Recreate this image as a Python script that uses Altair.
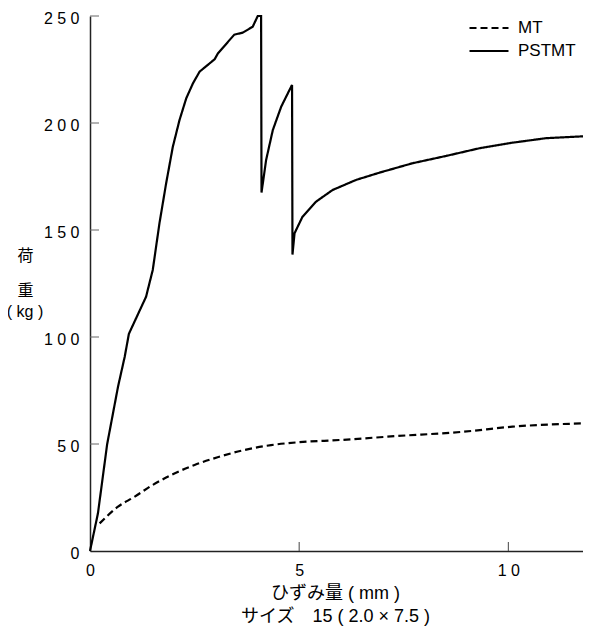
import altair as alt
import pandas as pd

series_names = ["MT", "PSTMT"]

mt_x = [0.23, 0.67, 1.07, 1.46, 1.94, 2.50, 3.05, 3.69, 4.33, 4.97, 6.00, 7.32, 8.91, 10.10, 11.85, 12.0]
mt_y = [12.9, 20.7, 25.4, 30.4, 35.5, 40.2, 43.8, 47.2, 49.5, 50.8, 51.9, 53.7, 55.7, 58.1, 59.7, 59.8]

pst_x = [0, 0.19, 0.41, 0.67, 0.83, 0.93, 1.34, 1.50, 1.66, 1.82, 1.98, 2.14, 2.30, 2.46, 2.62,
         2.98, 3.06, 3.45, 3.65, 3.89, 4.01, 4.09, 4.10, 4.21, 4.37, 4.57, 4.73, 4.83, 4.84,
         4.89, 5.08, 5.40, 5.80, 6.36, 6.92, 7.71, 8.51, 9.31, 10.10, 10.90, 12.0]
pst_y = [0, 17.6, 49.9, 76.8, 90.8, 101.5, 118.8, 131.3, 153.1, 171.8, 188.9, 201.4, 211.5, 218.5, 224.0,
         229.8, 232.6, 241.3, 242.2, 245.0, 250.0, 250.0, 167.5, 182.7, 196.7, 207.6, 213.9, 217.8, 138.5,
         148.5, 156.2, 163.2, 168.7, 173.4, 176.8, 181.2, 184.6, 188.2, 190.8, 192.9, 194.0]

x_label_values = [0, 5, 10]
y_label_values = [0, 50, 100, 150, 200, 250]
x_tick_values = [5, 10]
y_tick_values = [50, 100, 150, 200, 250]

x_title = ["ひずみ量 ( mm )", "サイズ　15 ( 2.0 × 7.5  )"]
y_title = ["荷", "重"]
y_unit = "( kg )"

mt_df = pd.DataFrame({"x": mt_x, "y": mt_y, "series": series_names[0], "i": list(range(len(mt_x)))})
pst_df = pd.DataFrame({"x": pst_x, "y": pst_y, "series": series_names[1], "i": list(range(len(pst_x)))})

W, H = 502, 535
LATIN = "Liberation Sans"
MIXED = "'Liberation Sans', 'Noto Sans CJK JP'"

x_scale = alt.Scale(domain=[0, 12], nice=False, zero=False)
y_scale = alt.Scale(domain=[0, 250], nice=False)
dash_scale = alt.Scale(domain=series_names, range=[[7, 4], [1, 0]])

spaced = "join(split(datum.label, ''), ' ')"

x_axis = alt.Axis(
    values=x_label_values, labelExpr=spaced, grid=False, ticks=False, tickSize=0,
    domainColor="#222", domainWidth=1.5, labelFont=LATIN, labelFontSize=16, labelColor="black",
    labelPadding=11, labelFlush=False, title=x_title, titleFont=MIXED, titleFontSize=18,
    titleFontWeight="normal", titleColor="black", titleBaseline="alphabetic",
    titleY=47, titleX=245, titleLineHeight=23, titleAlign="center",
)
y_axis = alt.Axis(
    values=y_label_values, labelExpr=spaced, grid=False, ticks=False, tickSize=0,
    domainColor="#222", domainWidth=1.5, labelFont=LATIN, labelFontSize=16, labelColor="black",
    labelPadding=11, labelOffset=2, labelFlush=False, title=y_title, titleFont=MIXED, titleFontSize=16,
    titleFontWeight="normal", titleColor="black", titleAngle=0, titleAlign="center",
    titleBaseline="alphabetic", titleX=-65, titleY=244, titleLineHeight=35,
)

legend = alt.Legend(
    title=None, orient="none", legendX=388, legendY=1, padding=0,
    symbolType="M-2,0H2", symbolSize=380, symbolStrokeWidth=2, symbolStrokeColor="black",
    labelFont=LATIN, labelFontSize=17, labelColor="black", labelOffset=18, rowPadding=4,
)

mt_line = alt.Chart(mt_df).mark_line(color="black", strokeWidth=2.2, interpolate="monotone").encode(
    x=alt.X("x:Q", scale=x_scale, axis=x_axis),
    y=alt.Y("y:Q", scale=y_scale, axis=y_axis),
    strokeDash=alt.StrokeDash("series:N", scale=dash_scale, legend=legend),
    order="i:Q",
)
pst_line = alt.Chart(pst_df).mark_line(color="black", strokeWidth=2.2).encode(
    x=alt.X("x:Q", scale=x_scale, axis=x_axis),
    y=alt.Y("y:Q", scale=y_scale, axis=y_axis),
    strokeDash=alt.StrokeDash("series:N", scale=dash_scale, legend=legend),
    order="i:Q",
)

ytick = alt.Chart(pd.DataFrame({"y": y_tick_values})).mark_rule(color="#666", strokeWidth=1).encode(
    y=alt.Y("y:Q", scale=y_scale, axis=y_axis), x=alt.value(0), x2=alt.value(9)
)
xtick = alt.Chart(pd.DataFrame({"x": x_tick_values})).mark_rule(color="#444", strokeWidth=1).encode(
    x=alt.X("x:Q", scale=x_scale, axis=x_axis), y=alt.value(H - 9), y2=alt.value(H)
)
unit = alt.Chart(alt.Data(values=[{}])).mark_text(
    text=y_unit, font=LATIN, fontSize=16, align="center", baseline="middle", color="black"
).encode(x=alt.value(-65), y=alt.value(296))

chart = alt.layer(mt_line, pst_line, ytick, xtick, unit).properties(
    width=W, height=H,
    autosize=alt.AutoSizeParams(type="none"),
    padding={"left": 82, "top": 8, "right": -9, "bottom": 75},
).configure_view(stroke=None)

chart.save("out.html", embed_options={"renderer": "svg", "actions": False})
